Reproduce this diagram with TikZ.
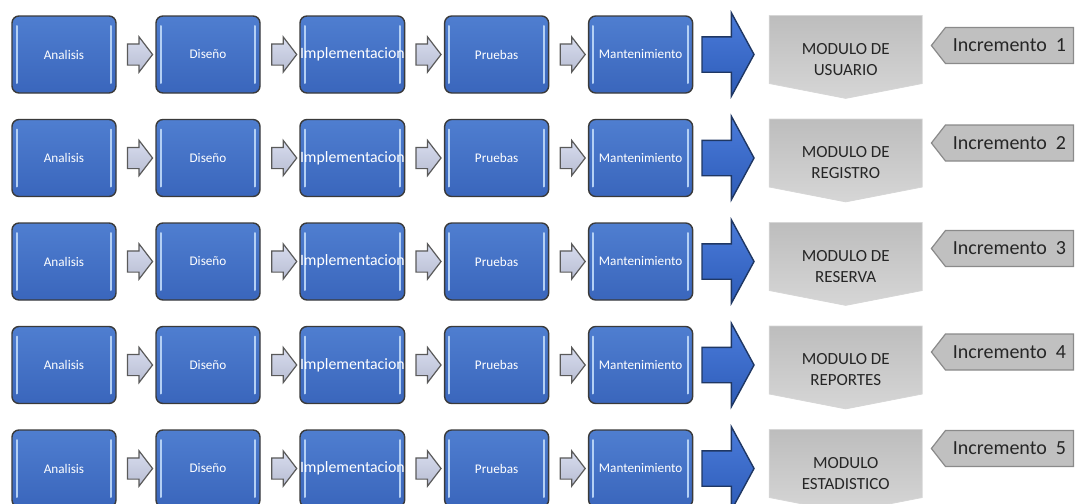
\documentclass[tikz,border=0pt]{standalone}
\usepackage{fontspec}
\setmainfont{Carlito}
\usetikzlibrary{shapes.arrows, shapes.symbols, positioning, calc}
\definecolor{faseA}{HTML}{4F7ED0}
\definecolor{faseB}{HTML}{3A66BC}
\definecolor{faseborde}{HTML}{3A3A3A}
\definecolor{faseluz}{HTML}{B4D0F4}
\definecolor{pasofill}{HTML}{CDD3EA}
\definecolor{pasoborde}{HTML}{5A5A5A}
\definecolor{entregaA}{HTML}{4A7BDA}
\definecolor{entregaB}{HTML}{2E5CB8}
\definecolor{entregaborde}{HTML}{1F3763}
\definecolor{moduloA}{HTML}{BDBDBD}
\definecolor{moduloB}{HTML}{D6D6D6}
\definecolor{incfill}{HTML}{C0C0C0}
\definecolor{incborde}{HTML}{8A8A8A}
\tikzset{
    brillo/.style={
        draw=faseluz,
        line width=1pt,
        line cap=round
    },
    fase/.style={
        rectangle,
        rounded corners=3.5pt,
        draw=faseborde,
        line width=0.7pt,
        top color=faseA,
        bottom color=faseB,
        minimum width=52pt,
        minimum height=38.5pt,
        inner sep=0pt,
        text=white,
        font=\fontsize{6.6}{7.5}\selectfont,
        path picture={
            \draw[brillo] ([xshift=2.3pt,yshift=-5pt]path picture bounding box.north west) -- ([xshift=2.3pt,yshift=5pt]path picture bounding box.south west);
            \draw[brillo] ([xshift=-2.3pt,yshift=-5pt]path picture bounding box.north east) -- ([xshift=-2.3pt,yshift=5pt]path picture bounding box.south east);
        }
    },
    paso/.style={
        single arrow,
        draw=pasoborde,
        top color=pasofill!80!white,
        bottom color=pasofill!90!black,
        line width=0.6pt,
        minimum height=12.5pt,
        minimum width=17pt,
        single arrow head extend=3.5pt,
        single arrow tip angle=105,
        inner xsep=0pt,
        inner ysep=5pt
    },
    entrega/.style={
        single arrow,
        draw=entregaborde,
        top color=entregaA,
        bottom color=entregaB,
        line width=0.7pt,
        minimum height=26pt,
        minimum width=41pt,
        single arrow head extend=12pt,
        single arrow tip angle=123,
        inner xsep=0pt,
        inner ysep=8.5pt
    },
    modulo/.style={
        signal,
        signal to=south,
        signal pointer angle=158,
        draw=moduloB,
        top color=moduloA,
        bottom color=moduloB,
        line width=0.4pt,
        minimum width=76.5pt,
        minimum height=34pt,
        inner sep=0pt
    },
    modtexto/.style={
        align=center,
        text=black!85,
        yshift=-5pt,
        font=\fontsize{8.5}{10.5}\selectfont
    },
    incremento/.style={
        signal,
        signal to=west,
        signal pointer angle=104,
        draw=incborde,
        fill=incfill,
        line width=0.6pt,
        minimum width=71pt,
        minimum height=18pt,
        inner sep=0pt,
        text=black!85,
        font=\fontsize{10}{12}\selectfont
    }
}

\begin{document}
\begin{tikzpicture}[x=0.5pt, y=-0.5pt, node distance=19.3pt]

\useasboundingbox (0,0) rectangle (1078,504);

% fila 1
\node[fase] (an1) at (64,54.5) {Analisis};
\node[fase, right=of an1] (di1) {Diseño};
\node[fase, right=of di1, font=\fontsize{7.9}{9}\selectfont] (im1) {Implementacion};
\node[fase, right=of im1] (pr1) {Pruebas};
\node[fase, right=of pr1] (ma1) {Mantenimiento};
\node[paso] (pa1) at ($(an1)!0.5!(di1)$) {};
\node[paso] (pb1) at ($(di1)!0.5!(im1)$) {};
\node[paso] (pc1) at ($(im1)!0.5!(pr1)$) {};
\node[paso] (pd1) at ($(pr1)!0.5!(ma1)$) {};
\node[entrega, right=4pt of ma1] (en1) {};
\node[modulo, right=7pt of en1, yshift=2.5pt, label={[modtexto]center:{MODULO DE\\USUARIO}}] (mo1) {};
\node[incremento, right=4pt of mo1.east, yshift=2pt] (in1) {Incremento~~1};

% fila 2
\node[fase] (an2) at (64,158) {Analisis};
\node[fase, right=of an2] (di2) {Diseño};
\node[fase, right=of di2, font=\fontsize{7.9}{9}\selectfont] (im2) {Implementacion};
\node[fase, right=of im2] (pr2) {Pruebas};
\node[fase, right=of pr2] (ma2) {Mantenimiento};
\node[paso] (pa2) at ($(an2)!0.5!(di2)$) {};
\node[paso] (pb2) at ($(di2)!0.5!(im2)$) {};
\node[paso] (pc2) at ($(im2)!0.5!(pr2)$) {};
\node[paso] (pd2) at ($(pr2)!0.5!(ma2)$) {};
\node[entrega, right=4pt of ma2] (en2) {};
\node[modulo, right=7pt of en2, yshift=2.5pt, label={[modtexto]center:{MODULO DE\\REGISTRO}}] (mo2) {};
\node[incremento, right=4pt of mo2.east, yshift=5pt] (in2) {Incremento~~2};

% fila 3
\node[fase] (an3) at (64,261.5) {Analisis};
\node[fase, right=of an3] (di3) {Diseño};
\node[fase, right=of di3, font=\fontsize{7.9}{9}\selectfont] (im3) {Implementacion};
\node[fase, right=of im3] (pr3) {Pruebas};
\node[fase, right=of pr3] (ma3) {Mantenimiento};
\node[paso] (pa3) at ($(an3)!0.5!(di3)$) {};
\node[paso] (pb3) at ($(di3)!0.5!(im3)$) {};
\node[paso] (pc3) at ($(im3)!0.5!(pr3)$) {};
\node[paso] (pd3) at ($(pr3)!0.5!(ma3)$) {};
\node[entrega, right=4pt of ma3] (en3) {};
\node[modulo, right=7pt of en3, yshift=2.5pt, label={[modtexto]center:{MODULO DE\\RESERVA}}] (mo3) {};
\node[incremento, right=4pt of mo3.east, yshift=4pt] (in3) {Incremento~~3};

% fila 4
\node[fase] (an4) at (64,365) {Analisis};
\node[fase, right=of an4] (di4) {Diseño};
\node[fase, right=of di4, font=\fontsize{7.9}{9}\selectfont] (im4) {Implementacion};
\node[fase, right=of im4] (pr4) {Pruebas};
\node[fase, right=of pr4] (ma4) {Mantenimiento};
\node[paso] (pa4) at ($(an4)!0.5!(di4)$) {};
\node[paso] (pb4) at ($(di4)!0.5!(im4)$) {};
\node[paso] (pc4) at ($(im4)!0.5!(pr4)$) {};
\node[paso] (pd4) at ($(pr4)!0.5!(ma4)$) {};
\node[entrega, right=4pt of ma4] (en4) {};
\node[modulo, right=7pt of en4, yshift=2.5pt, label={[modtexto]center:{MODULO DE\\REPORTES}}] (mo4) {};
\node[incremento, right=4pt of mo4.east, yshift=4pt] (in4) {Incremento~~4};

% fila 5
\node[fase] (an5) at (64,468.5) {Analisis};
\node[fase, right=of an5] (di5) {Diseño};
\node[fase, right=of di5, font=\fontsize{7.9}{9}\selectfont] (im5) {Implementacion};
\node[fase, right=of im5] (pr5) {Pruebas};
\node[fase, right=of pr5] (ma5) {Mantenimiento};
\node[paso] (pa5) at ($(an5)!0.5!(di5)$) {};
\node[paso] (pb5) at ($(di5)!0.5!(im5)$) {};
\node[paso] (pc5) at ($(im5)!0.5!(pr5)$) {};
\node[paso] (pd5) at ($(pr5)!0.5!(ma5)$) {};
\node[entrega, right=4pt of ma5] (en5) {};
\node[modulo, right=7pt of en5, yshift=2.5pt, label={[modtexto]center:{MODULO\\ESTADISTICO}}] (mo5) {};
\node[incremento, right=4pt of mo5.east, yshift=7.5pt] (in5) {Incremento~~5};

\end{tikzpicture}
\end{document}
